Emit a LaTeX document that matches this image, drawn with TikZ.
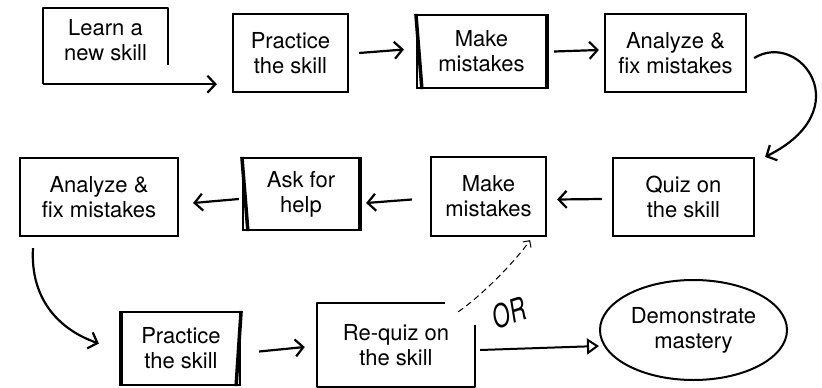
\documentclass[tikz,border=0pt]{standalone}
\usepackage{fontspec}
\setmainfont{TeX Gyre Heros}
\usetikzlibrary{arrows.meta,shapes.geometric}
\newcommand{\skillfont}{\fontsize{22}{25}\selectfont}
\tikzset{
	stepbox/.style={draw, line width=2.2pt, align=center, font=\skillfont, inner sep=0pt},
	plainbox/.style={align=center, font=\skillfont, inner sep=0pt},
	arr/.style={line width=2.2pt, -{Straight Barb[length=8pt,width=17pt]}},
	dasharr/.style={line width=1pt, dash pattern=on 6pt off 4pt, -{Straight Barb[length=5pt,width=10pt]}},
	openarr/.style={line width=2pt, -{Triangle[open,length=12pt,width=16pt]}}
}
\begin{document}
\begin{tikzpicture}[x=1pt, y=-1pt]
		%%%%% START %%%%%
		\useasboundingbox (0, 0) rectangle (822, 388);
		
		% first row
		\node[plainbox, minimum width=125pt, minimum height=76pt] (learn) at (105.5, 46) {};
		\node[plainbox] (learntext) at (105.5, 40) {Learn a\\new skill};
		\node[stepbox, minimum width=115pt, minimum height=78pt] (practice) at (290.5, 53) {Practice\\the skill};
		\node[stepbox, minimum width=129pt, minimum height=73pt] (mistakes) at (481.5, 51.5) {Make\\mistakes};
		\node[stepbox, minimum width=141pt, minimum height=78pt] (analyze) at (675.5, 53) {Analyze \&\\fix mistakes};
		
		% second row
		\node[stepbox, minimum width=141pt, minimum height=78pt] (quiz) at (683.5, 197) {Quiz on\\the skill};
		\node[stepbox, minimum width=115pt, minimum height=79pt] (mistakesb) at (488.5, 196.5) {Make\\mistakes};
		\node[stepbox, minimum width=116pt, minimum height=72pt] (help) at (301, 194) {Ask for\\help};
		\node[stepbox, minimum width=158pt, minimum height=78pt] (analyzeb) at (99, 197) {Analyze \&\\fix mistakes};
		
		% third row
		\node[stepbox, minimum width=118pt, minimum height=73pt] (practiceb) at (181, 348.5) {Practice\\the skill};
		\node[plainbox, minimum width=158pt, minimum height=84pt] (requiz) at (396, 345) {Re-quiz on\\the skill};
		\node[draw, ellipse, line width=2pt, minimum width=187pt, minimum height=100pt, font=\skillfont, align=center, inner sep=0pt] (mastery) at (693.5, 330) {Demonstrate\\mastery};
		\node[font=\fontsize{32}{32}\selectfont\itshape, rotate=18, xscale=0.7, transform shape, inner sep=0pt] (ortext) at (509, 313) {OR};
		
		% heavier sides
		\draw[line width=3.5pt] (mistakes.north west) -- ([xshift=6]mistakes.south west);
		\draw[line width=3.5pt] (mistakes.north east) -- (mistakes.south east);
		\draw[line width=3.5pt] (help.north west) -- ([xshift=6]help.south west);
		\draw[line width=3.5pt] (help.north east) -- (help.south east);
		\draw[line width=3.5pt] (practiceb.north west) -- (practiceb.south west);
		\draw[line width=3.5pt] (practiceb.north east) -- ([xshift=-5]practiceb.south east);
		
		% open outlines
		\draw[line width=2.2pt, line join=round] ([yshift=-57]learn.north east) -- (learn.north east) -- (learn.north west) -- (learn.south west);
		\draw[line width=2.2pt, line join=round] ([xshift=-30]requiz.north east) -- (requiz.north west) -- (requiz.south west) -- (requiz.south east) -- ([yshift=-22]requiz.north east);
		
		% connectors
		\draw[arr] (learn.south west) -- ([xshift=-15]learn.south west -| practice.west);
		\draw[arr] ([xshift=10]practice.east) -- ([xshift=-12,yshift=2]mistakes.west);
		\draw[arr] ([xshift=7]mistakes.east) -- ([xshift=-5,yshift=3]analyze.west);
		\draw[arr] ([xshift=7,yshift=-5]analyze.east) .. controls (800, 30) and (860, 110) .. ([xshift=10]quiz.north east);
		\draw[arr] ([xshift=-10,yshift=-2]quiz.west) -- ([xshift=10,yshift=-3]mistakesb.east);
		\draw[arr] ([xshift=-18,yshift=-3]mistakesb.west) -- ([xshift=6,yshift=-9]help.east);
		\draw[arr] ([xshift=-3,yshift=-5]help.west) -- ([xshift=14,yshift=-6]analyzeb.east);
		\draw[arr] ([xshift=-66,yshift=-11]analyzeb.south) .. controls (30, 300) and (60, 330) .. ([xshift=-22,yshift=5]practiceb.west);
		\draw[arr] ([xshift=18,yshift=-3]practiceb.east) -- ([xshift=-12,yshift=-2]requiz.west);
		\draw[dasharr] ([xshift=-17,yshift=-9]requiz.north east) .. controls (480, 297) and (515, 262) .. ([xshift=-17,yshift=-3]mistakesb.south east);
		\draw[openarr] ([xshift=5,yshift=-5]requiz.east) -- ([yshift=-16]mastery.west);
		
		%%%%% END %%%%%
	\end{tikzpicture}
\end{document}
